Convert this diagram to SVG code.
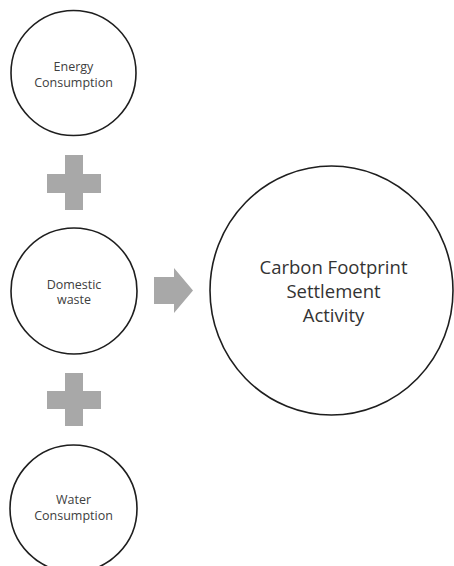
<svg xmlns="http://www.w3.org/2000/svg" width="454" height="566" viewBox="0 0 454 566">
<style>
.node{fill:#fff;stroke:#1e1e1e;stroke-width:1.6}
.t{font-family:"Open Sans","DejaVu Sans",sans-serif;font-size:12.5px;fill:#404040;text-anchor:middle}
.tb{font-family:"Open Sans","DejaVu Sans",sans-serif;font-size:18.5px;fill:#333;text-anchor:middle}
.sym{fill:#a8a8a8}
</style>
<rect width="454" height="566" fill="#fff"/>
<g id="energy">
<circle class="node" cx="73.5" cy="73" r="62.5"/>
<text class="t" x="73.5" y="70.5">Energy</text>
<text class="t" x="73.5" y="86.5">Consumption</text>
</g>
<g id="domestic">
<circle class="node" cx="74" cy="291" r="63"/>
<text class="t" x="74" y="288.5">Domestic</text>
<text class="t" x="74" y="304">waste</text>
</g>
<g id="water">
<circle class="node" cx="73.5" cy="508.5" r="63.5"/>
<text class="t" x="73.5" y="503.5">Water</text>
<text class="t" x="73.5" y="519.5">Consumption</text>
</g>
<g id="carbon">
<ellipse class="node" cx="331.5" cy="290.5" rx="121.5" ry="124.5"/>
<text class="tb" x="333.5" y="274">Carbon Footprint</text>
<text class="tb" x="333.5" y="298">Settlement</text>
<text class="tb" x="333.5" y="322">Activity</text>
</g>
<g id="connectors">
<path class="sym" d="M65 155H83V174H101V193H83V210H65V193H47V174H65Z"/>
<path class="sym" d="M65 373H83V391H101V409H83V426H65V409H47V391H65Z"/>
<path class="sym" d="M154 277H174V268L193 290.5L174 313V304H154Z"/>
</g>
</svg>
